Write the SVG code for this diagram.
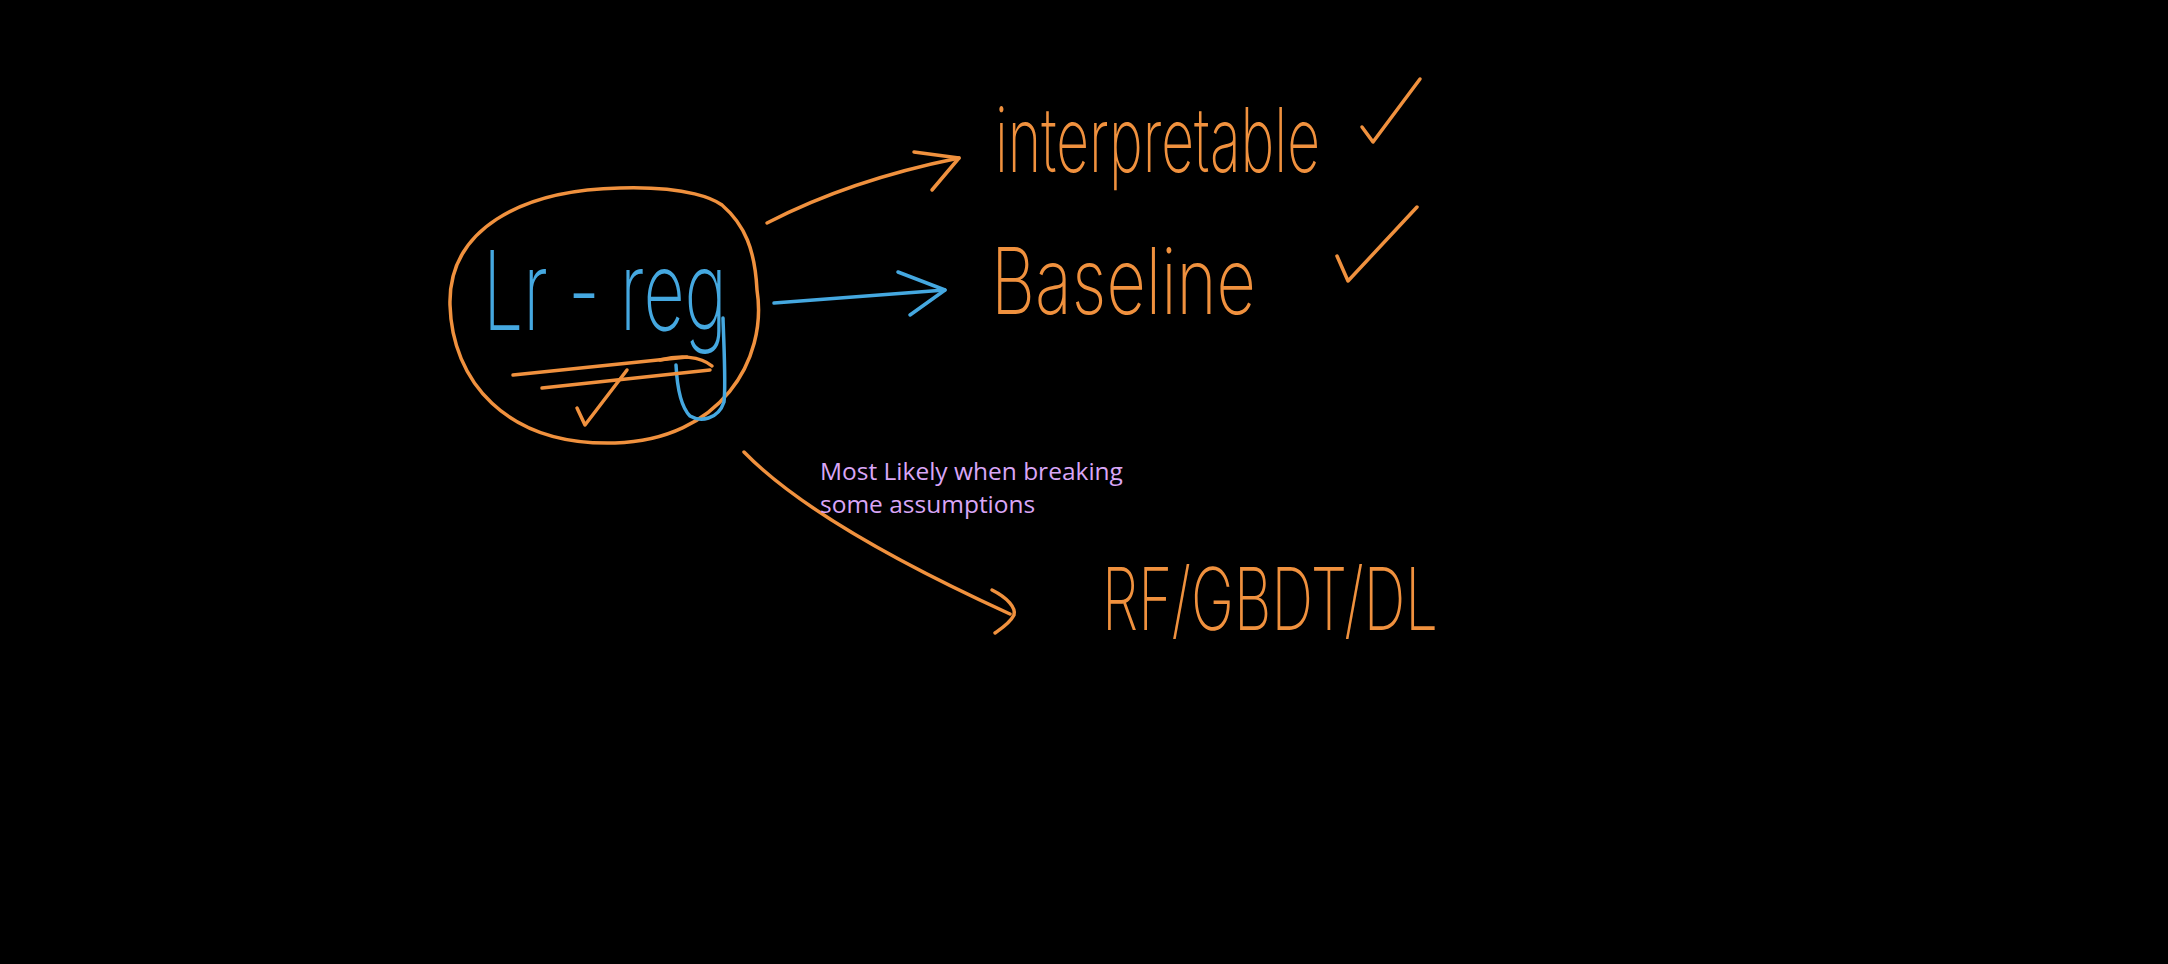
<svg xmlns="http://www.w3.org/2000/svg" width="2168" height="964" viewBox="0 0 2168 964">
<defs>
<style>
.bg{fill:#000}
.o{fill:none;stroke:#f0913e;stroke-width:3.5;stroke-linecap:round;stroke-linejoin:round}
.b{fill:none;stroke:#45a8e0;stroke-width:3.5;stroke-linecap:round;stroke-linejoin:round}
.hw{font-family:Inter,"Liberation Sans",sans-serif;font-weight:200}
.ot{fill:#f0913e}
.bt{fill:#45a8e0}
.note{font-family:"Open Sans","Liberation Sans",sans-serif;font-size:24.5px;fill:#d9a6f7}
</style>
</defs>
<rect class="bg" x="0" y="0" width="2168" height="964"/>
<g id="lr-reg">
<path class="o" d="M620,188 C690,186 715,200 722,205 C745,225 755,250 757,290 C768,360 720,440 615,443 C505,446 452,380 450,305 C448,230 520,190 620,188 Z"/>
<text class="hw bt" x="483" y="330" font-size="110" textLength="244" lengthAdjust="spacingAndGlyphs">Lr - reg</text>
<path class="b" d="M723,318 C724,350 726,385 724,402 C718,420 700,422 690,416 C680,406 677,385 676,365"/>
<path class="o" d="M513,375 L687,357"/>
<path class="o" d="M542,388 L710,370"/>
<path class="o" d="M660,360 C680,355 700,356 712,366"/>
<path class="o" d="M577,408 L585,425 L627,370"/>
</g>
<g id="connectors">
<path class="o" d="M767,223 Q850,180 959,158"/>
<path class="o" d="M914,152 L959,158 L932,190"/>
<path class="b" d="M774,303 L945,290"/>
<path class="b" d="M898,272 L945,290 L910,315"/>
<path class="o" d="M744,452 Q815,525 1010,614"/>
<path class="o" d="M992,590 C1008,598 1016,608 1014,615 C1010,623 1002,628 995,633"/>
</g>
<g id="interpretable">
<text class="hw ot" x="995" y="172" font-size="90" textLength="325" lengthAdjust="spacingAndGlyphs">interpretable</text>
<path class="o" d="M1362,127 L1373,142 L1420,79"/>
</g>
<g id="baseline">
<text class="hw ot" x="991" y="314" font-size="92" textLength="265" lengthAdjust="spacingAndGlyphs">Baseline</text>
<path class="o" d="M1337,256 L1348,281 L1417,207"/>
</g>
<g id="note">
<text class="note" x="820" y="480">Most Likely when breaking</text>
<text class="note" x="820" y="513">some assumptions</text>
</g>
<g id="rf-gbdt-dl">
<text class="hw ot" x="1102" y="630" font-size="86" textLength="336" lengthAdjust="spacingAndGlyphs">RF/GBDT/DL</text>
</g>
</svg>
